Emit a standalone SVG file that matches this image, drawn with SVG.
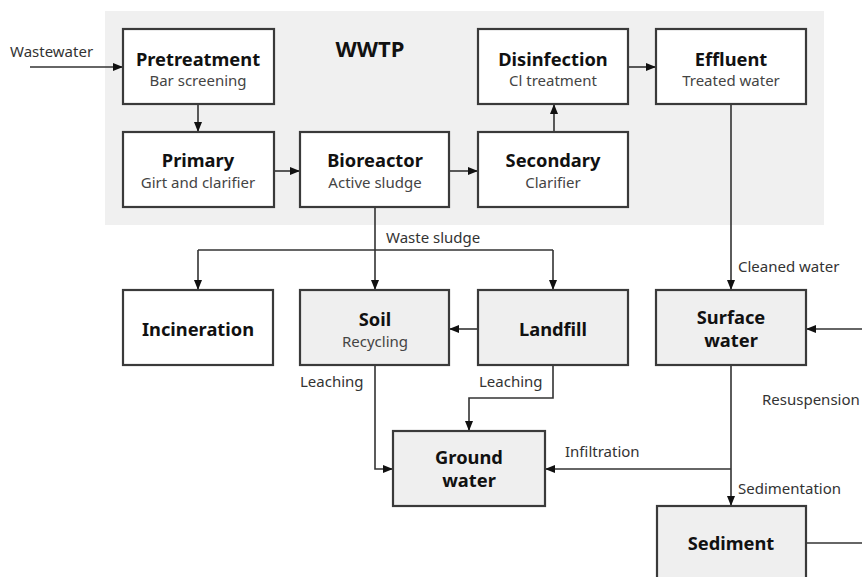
<svg xmlns="http://www.w3.org/2000/svg" width="862" height="577" viewBox="0 0 862 577">
<style>
.bx{stroke:#3a3a3a;stroke-width:2.2}
.w{fill:#fff}
.g{fill:#efefef}
.t{font-family:"Noto Sans","Open Sans",sans-serif;font-weight:bold;font-size:18.3px;fill:#111;text-anchor:middle}
.s{font-family:"Noto Sans","Open Sans",sans-serif;font-size:15px;fill:#444;text-anchor:middle}
.l{font-family:"Noto Sans","Open Sans",sans-serif;font-size:15px;fill:#333}
.c{fill:none;stroke:#333;stroke-width:1.6}
</style>
<defs>
<marker id="a" markerUnits="userSpaceOnUse" markerWidth="10" markerHeight="10" viewBox="0 0 10 10" refX="10" refY="5" orient="auto">
<path d="M0,1 L10,5 L0,9 Z" fill="#111"/>
</marker>
</defs>
<rect x="105" y="11" width="719" height="214" fill="#f0f0f0"/>
<text x="370" y="57" class="t" style="font-size:22px">WWTP</text>
<g id="connectors">
<path class="c" d="M30,67 H123" marker-end="url(#a)"/>
<path class="c" d="M198,104 V132" marker-end="url(#a)"/>
<path class="c" d="M274,171 H300" marker-end="url(#a)"/>
<path class="c" d="M449,171 H478" marker-end="url(#a)"/>
<path class="c" d="M554,132 V104" marker-end="url(#a)"/>
<path class="c" d="M628,67 H656" marker-end="url(#a)"/>
<path class="c" d="M731,104 V290" marker-end="url(#a)"/>
<path class="c" d="M375,207 V290" marker-end="url(#a)"/>
<path class="c" d="M198,250 H553"/>
<path class="c" d="M198,250 V290" marker-end="url(#a)"/>
<path class="c" d="M553,250 V290" marker-end="url(#a)"/>
<path class="c" d="M478,329 H449" marker-end="url(#a)"/>
<path class="c" d="M375,365 V469 H393" marker-end="url(#a)"/>
<path class="c" d="M553,365 V398 H469 V431" marker-end="url(#a)"/>
<path class="c" d="M731,365 V506" marker-end="url(#a)"/>
<path class="c" d="M731,469 H545" marker-end="url(#a)"/>
<path class="c" d="M806,543 H862"/>
<path class="c" d="M862,329 H806" marker-end="url(#a)"/>
<text x="10" y="57" class="l">Wastewater</text>
<text x="386" y="243" class="l">Waste sludge</text>
<text x="738" y="272" class="l">Cleaned water</text>
<text x="300" y="387" class="l">Leaching</text>
<text x="479" y="387" class="l">Leaching</text>
<text x="762" y="405" class="l">Resuspension</text>
<text x="565" y="457" class="l">Infiltration</text>
<text x="738" y="494" class="l">Sedimentation</text>
</g>
<g id="pretreatment"><rect class="bx w" x="123" y="29" width="151" height="75"/><text x="198" y="66" class="t">Pretreatment</text><text x="198" y="86" class="s">Bar screening</text></g>
<g id="primary"><rect class="bx w" x="123" y="132" width="151" height="75"/><text x="198" y="167" class="t">Primary</text><text x="198" y="188" class="s">Girt and clarifier</text></g>
<g id="bioreactor"><rect class="bx w" x="300" y="132" width="149" height="75"/><text x="375" y="167" class="t">Bioreactor</text><text x="375" y="188" class="s">Active sludge</text></g>
<g id="secondary"><rect class="bx w" x="478" y="132" width="150" height="75"/><text x="553" y="167" class="t">Secondary</text><text x="553" y="188" class="s">Clarifier</text></g>
<g id="disinfection"><rect class="bx w" x="478" y="29" width="150" height="75"/><text x="553" y="66" class="t">Disinfection</text><text x="553" y="86" class="s">Cl treatment</text></g>
<g id="effluent"><rect class="bx w" x="656" y="29" width="150" height="75"/><text x="731" y="66" class="t">Effluent</text><text x="731" y="86" class="s">Treated water</text></g>
<g id="incineration"><rect class="bx w" x="123" y="290" width="150" height="75"/><text x="198" y="336" class="t">Incineration</text></g>
<g id="soil"><rect class="bx g" x="300" y="290" width="149" height="75"/><text x="375" y="326" class="t">Soil</text><text x="375" y="347" class="s">Recycling</text></g>
<g id="landfill"><rect class="bx g" x="478" y="290" width="150" height="75"/><text x="553" y="336" class="t">Landfill</text></g>
<g id="surface-water"><rect class="bx g" x="656" y="290" width="150" height="75"/><text x="731" y="324" class="t">Surface</text><text x="731" y="347" class="t">water</text></g>
<g id="ground-water"><rect class="bx g" x="393" y="431" width="152" height="75"/><text x="469" y="464" class="t">Ground</text><text x="469" y="487" class="t">water</text></g>
<g id="sediment"><rect class="bx g" x="657" y="506" width="149" height="76"/><text x="731" y="550" class="t">Sediment</text></g>
</svg>
